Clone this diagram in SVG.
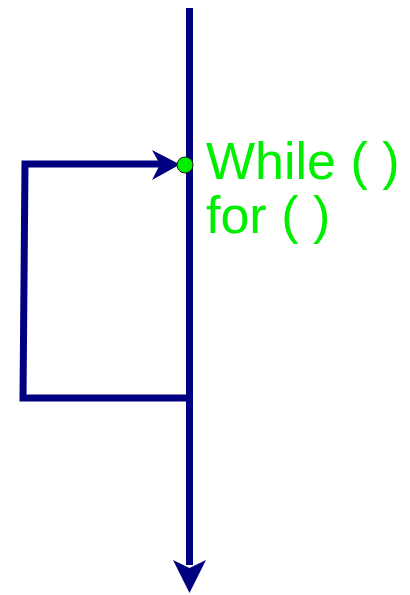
<svg xmlns="http://www.w3.org/2000/svg" width="410" height="595" viewBox="0 0 410 595">
<style>
.ln{fill:none;stroke:#000080;stroke-width:7;stroke-linejoin:miter;stroke-linecap:butt}
.ah{fill:#000080}
.lbl{font-family:"Liberation Sans",Arial,sans-serif;font-size:52px;fill:#00ee00}
</style>
<rect width="410" height="595" fill="#fff"/>
<g id="connectors">
<path class="ln" d="M189.5,8 V565"/>
<path class="ah" d="M189.5,593 L173,560 L189.5,568 L206,560 Z"/>
<path class="ln" d="M189.5,398 H23 L25,164 H160"/>
<path class="ah" d="M180,164.5 L152,150 L160,164.5 L152,180 Z"/>
</g>
<g id="node-while">
<circle cx="185" cy="165" r="8" fill="#00ee00" stroke="#222" stroke-width="1"/>
<text class="lbl" x="206" y="179">While ( )</text>
<text class="lbl" x="206" y="233">for ( )</text>
</g>
</svg>
